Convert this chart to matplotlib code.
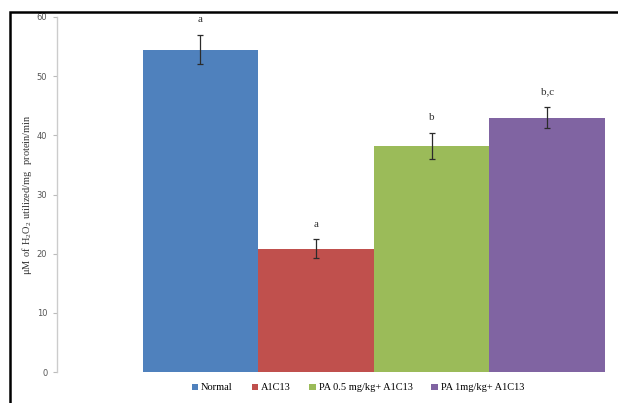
import matplotlib.pyplot as plt
from matplotlib.patches import Rectangle

groups = ['Normal', 'AlCl3', 'PA 0.5 mg/kg+ AlCl3', 'PA 1mg/kg+ AlCl3']
legend_labels = ['Normal', 'A1C13', 'PA 0.5 mg/kg+ A1C13', 'PA 1mg/kg+ A1C13']
means = [54.5, 20.8, 38.2, 43.0]
errors = [2.5, 1.6, 2.2, 1.8]
letters = ['a', 'a', 'b', 'b,c']
colors = ['#4F81BD', '#C0504D', '#9BBB59', '#8064A2']

plt.rcParams['font.family'] = ['Liberation Serif', 'DejaVu Serif']

fig = plt.figure(figsize=(6.18, 4.03), dpi=100)
ax = fig.add_axes([57/618, 31/403, 1 - 57/618, 355/403])

# frame around the whole chart (open to the right and bottom)
fig.patches.append(Rectangle((10/618, -0.1), 1.2, 1.1 - 12/403,
                             transform=fig.transFigure, fill=False,
                             edgecolor='black', linewidth=1.8, zorder=10))

for i in range(len(means)):
    ax.bar(i, means[i], width=1.0, color=colors[i], label=legend_labels[i])
    ax.errorbar(i, means[i], yerr=errors[i], fmt='none', ecolor='#2b2b2b',
                elinewidth=0.9, capsize=2.5, capthick=0.9)
    ax.text(i, means[i] + errors[i] + 2.6, letters[i], ha='center', va='center',
            fontsize=8, color='#333333')

ax.set_xlim(-1.241, 3.612)
ax.set_ylim(0, 60)
ax.set_yticks(range(0, 61, 10))
ax.set_xticks([])
ax.tick_params(axis='y', length=3, width=0.8, color='#bbbbbb', labelsize=6,
               labelcolor='#555555', pad=4)
for lab in ax.get_yticklabels():
    lab.set_family('DejaVu Sans')
for side in ['top', 'right', 'bottom']:
    ax.spines[side].set_visible(False)
ax.spines['left'].set_color('#cccccc')
ax.spines['left'].set_linewidth(1.0)

ax.set_ylabel(r'$\mathregular{\mu M\ of\ H_2O_2\ utilized/mg\ \ protein/min}$',
              fontsize=7.5, color='#333333', labelpad=2)

fig.legend(loc='center', bbox_to_anchor=(358/618, 1 - 388/403), ncol=4,
           frameon=False, fontsize=7.5, handlelength=0.6, handleheight=0.6,
           handletextpad=0.3, columnspacing=1.8)

fig.savefig('out.png', dpi=100)
